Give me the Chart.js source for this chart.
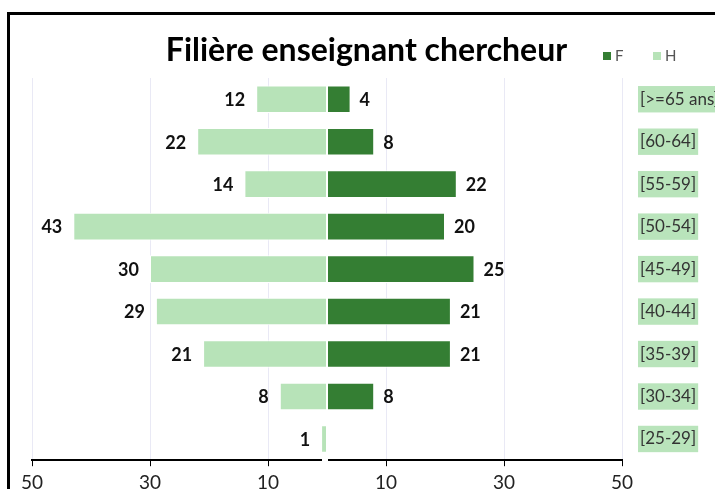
<!DOCTYPE html>
<html>
<head>
<meta charset="utf-8">
<script src="https://cdn.jsdelivr.net/npm/chart.js@4"></script>
<style>
  html, body { margin: 0; padding: 0; background: #fff; overflow: hidden; }
  #frame { position: absolute; left: 7px; top: 12px; width: 760px; height: 520px; border: 3px solid #000; box-sizing: border-box; }
  #chart { position: absolute; left: 0; top: 0; }
</style>
</head>
<body>
<div id="frame"></div>
<canvas id="chart" width="715" height="499"></canvas>
<script>
// Age groups, top to bottom
const ageGroups = ['[>=65 ans]', '[60-64]', '[55-59]', '[50-54]', '[45-49]', '[40-44]', '[35-39]', '[30-34]', '[25-29]'];
const femmes = [4, 8, 22, 20, 25, 21, 21, 8, 0];
const hommes = [12, 22, 14, 43, 30, 29, 21, 8, 1];
const xTicks = [-50, -30, -10, 10, 30, 50];

const darkGreen = '#347e33';
const lightGreen = '#b7e3b8';
const font = 'Lato, "Liberation Sans", sans-serif';

// value labels at the end of each bar
const barLabels = {
    id: 'barLabels',
    afterDatasetsDraw(chart) {
        const ctx = chart.ctx;
        ctx.save();
        ctx.font = 'bold 18px ' + font;
        ctx.fillStyle = '#111';
        ctx.textBaseline = 'middle';
        chart.data.datasets.forEach((ds, di) => {
            chart.getDatasetMeta(di).data.forEach((el, i) => {
                const v = ds.data[i];
                if (!v) return;
                if (v < 0) {
                    ctx.textAlign = 'right';
                    ctx.fillText(Math.abs(v), el.x - 11, el.y + 1);
                } else {
                    ctx.textAlign = 'left';
                    ctx.fillText(v, el.x + 9, el.y + 1);
                }
            });
        });
        ctx.restore();
    }
};

// small legend next to the title + the little break in the axis at 0
const inlineLegend = {
    id: 'inlineLegend',
    afterDraw(chart) {
        const ctx = chart.ctx;
        ctx.save();
        const x0 = chart.scales.x.getPixelForValue(0);
        const bottom = chart.chartArea.bottom;
        ctx.fillStyle = '#fff';
        ctx.fillRect(x0 - 5, bottom - 3, 6, 6);

        ctx.font = '15px ' + font;
        ctx.textBaseline = 'middle';
        let x = 603;
        const y = 56;
        chart.data.datasets.forEach(ds => {
            ctx.fillStyle = ds.backgroundColor;
            ctx.fillRect(x, y - 4, 8, 8);
            ctx.fillStyle = '#555';
            ctx.textAlign = 'left';
            ctx.fillText(ds.label, x + 12, y);
            x += 50;
        });
        ctx.restore();
    }
};

new Chart(document.getElementById('chart'), {
    type: 'bar',
    data: {
        labels: ageGroups,
        datasets: [
            { label: 'F', data: femmes, backgroundColor: darkGreen },
            { label: 'H', data: hommes.map(v => -v), backgroundColor: lightGreen }
        ]
    },
    options: {
        indexAxis: 'y',
        responsive: false,
        animation: false,
        layout: { padding: { left: 18, right: 0, top: 0, bottom: 0 } },
        datasets: {
            bar: {
                categoryPercentage: 1,
                barPercentage: 0.65,
                borderColor: '#fff',
                borderWidth: 1,
                borderSkipped: false
            }
        },
        scales: {
            x: {
                stacked: true,
                min: -50,
                max: 50,
                afterBuildTicks: scale => { scale.ticks = xTicks.map(v => ({ value: v })); },
                ticks: {
                    color: '#222',
                    font: { family: font, size: 19 },
                    padding: 5,
                    callback: v => Math.abs(v)
                },
                grid: { color: '#e9e9f5', tickColor: '#000', tickLength: 6 },
                border: { color: '#000', width: 2 }
            },
            y: {
                stacked: true,
                position: 'right',
                afterFit: scale => { scale.width = 93; },
                grid: { display: false },
                border: { display: false },
                ticks: {
                    color: '#333',
                    font: { family: font, size: 17 },
                    padding: 10,
                    showLabelBackdrop: true,
                    backdropColor: '#b9e4bb',
                    backdropPadding: { top: 3, bottom: 3, left: 2, right: 2 }
                }
            },
            // empty spacer on the left so the title sits where it should
            yLeft: {
                type: 'category',
                position: 'left',
                afterFit: scale => { scale.width = 14; },
                grid: { display: false },
                border: { display: false },
                ticks: { display: false }
            }
        },
        plugins: {
            legend: { display: false },
            tooltip: { enabled: false },
            title: {
                display: true,
                text: 'Filière enseignant chercheur',
                color: '#000',
                font: { family: font, size: 32, weight: 'bold' },
                padding: { top: 31, bottom: 8.6 }
            }
        }
    },
    plugins: [barLabels, inlineLegend]
});
</script>
</body>
</html>
